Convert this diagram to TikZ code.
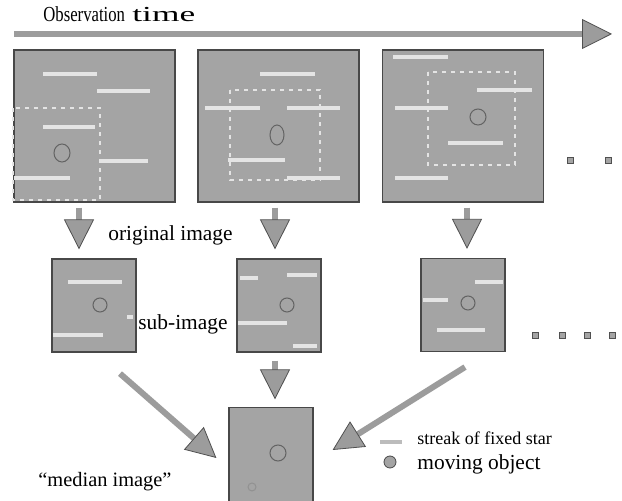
\documentclass[tikz,border=0pt]{standalone}
\usepackage{fontspec}
\setmainfont{Liberation Serif}
\usetikzlibrary{arrows.meta,calc}
\definecolor{plate}{HTML}{A4A4A4}
\definecolor{rim}{HTML}{484848}
\definecolor{streakc}{HTML}{E4E4E4}
\definecolor{arrfill}{HTML}{9C9C9C}
\definecolor{arrrim}{HTML}{505050}

\begin{document}
\begin{tikzpicture}[x=0.5pt,y=-0.5pt,
  frame/.style={draw=rim,fill=plate,line width=0.6pt,inner sep=0pt},
  big/.style={frame,minimum width=80.5pt,minimum height=76pt},
  sub/.style={frame,minimum width=42pt,minimum height=46.5pt},
  streak/.style={fill=streakc},
  region/.style={draw=streakc,line width=1.4pt,dash pattern=on 2pt off 2.5pt},
  obj/.style={draw=rim!85,line width=0.5pt},
  blk/.style={arrfill,line width=3pt,
    -{Triangle[length=15pt,width=15pt,line width=0.4pt,color=arrrim,fill=arrfill]}},
  lbl/.style={font=\fontsize{10.7}{13}\selectfont,inner sep=0pt},
  dotbox/.style={draw=arrrim,fill=plate,line width=0.4pt,minimum size=3pt,inner sep=0pt}]
\useasboundingbox[fill=white] (0,0) rectangle (622,501);

% time axis
\coordinate (tstart) at (14,34);
\coordinate (tend) at (612,34);
\draw[blk,line width=2.8pt] (tstart) -- (tend);
\node[lbl,anchor=base west] (obs) at (43,22) {\scalebox{0.78}[1]{Observation}};
\node[lbl,anchor=base west] (tm) at (132,22) {\scalebox{1.65}[1]{time}};

% original frames
\node[big] (f1) at (94.5,126) {};
\node[big] (f2) at (278.5,126) {};
\node[big] (f3) at (463,126) {};
\foreach \x/\y/\l in {43/74/54,97/91/53,43/127/52,100/161/48,14/178/56,
    260/74/55,205/108/55,287/108/53,228/160/57,287/178/53,
    393/57/55,477/90/55,395/108/53,448/143/55,395/178/53}
  \fill[streak] (\x,\y-2) rectangle ++(\l,4);
\draw[region] (13,108) rectangle (100,200);
\draw[region] (230,90) rectangle (320,180);
\draw[region] (428,72) rectangle (515,165);
\draw[obj] (62,153) circle[x radius=4pt,y radius=4.5pt];
\draw[obj] (277,135) circle[x radius=3.5pt,y radius=5pt];
\draw[obj] (478,117) circle[radius=4pt];
\foreach \x in {570,608}
  \node[dotbox] (d\x) at (\x,160) {};

% sub-images
\node[sub] (s1) at (94,305.5) {};
\node[sub] (s2) at (279,305.5) {};
\node[sub] (s3) at (463,305) {};
\foreach \x/\y/\l in {68/282/54,53/335/50,127/317/6,
    240/278/18,287/275/30,238/323/49,293/346/24,
    475/282/28,423/300/25,437/330/48}
  \fill[streak] (\x,\y-2) rectangle ++(\l,4);
\draw[obj] (100,305) circle[radius=3.5pt];
\draw[obj] (287,305) circle[radius=3.5pt];
\draw[obj] (468,303) circle[radius=3.5pt];
\foreach \x in {535,562,587,612}
  \node[dotbox] (e\x) at (\x,335) {};

\draw[blk,shorten <=2.5pt,shorten >=4.5pt] ($(f1.south)+(-15.5,0)$) -- ($(f1.south |- s1.north)+(-15.5,0)$);
\draw[blk,shorten <=2.5pt,shorten >=4.5pt] ($(f2.south)+(-3.5,0)$) -- ($(f2.south |- s2.north)+(-3.5,0)$);
\draw[blk,shorten <=2.5pt,shorten >=4.5pt] ($(f3.south)+(4,0)$) -- ($(f3.south |- s3.north)+(4,0)$);
\node[lbl,anchor=base west] (orig) at (108,241) {original image};
\node[lbl,anchor=base west] (subl) at (138,330) {sub-image};

% median image
\node[frame,minimum width=42pt,minimum height=48.5pt] (med) at (271,456) {};
\draw[obj] (278,453) circle[radius=4pt];
\draw[obj,draw=rim!60] (252,487) circle[radius=2pt];
\draw[blk,shorten <=4pt,shorten >=3.75pt] ($(s2.south)+(-4,0)$) -- ($(s2.south |- med.north)+(-4,0)$);
\draw[blk] ($(s1.south)+(26,21)$) -- ($(med.west)+(-12,2)$);
\draw[blk] ($(s3.south)+(2,15)$) -- ($(med.east)+(19,-6)$);
\node[lbl,anchor=base west,font=\fontsize{10.2}{12}\selectfont] (medl) at (38,487) {``median image''};

% legend
\fill[streakc!60!gray] (380,440) rectangle (402,444);
\filldraw[fill=plate,draw=rim,line width=0.4pt] (390,462) circle[radius=3pt];
\node[lbl,anchor=base west,font=\fontsize{9}{11}\selectfont] (lstreak) at (417,445) {streak of fixed star};
\node[lbl,anchor=base west] (lobj) at (417,470) {moving object};
\end{tikzpicture}
\end{document}
